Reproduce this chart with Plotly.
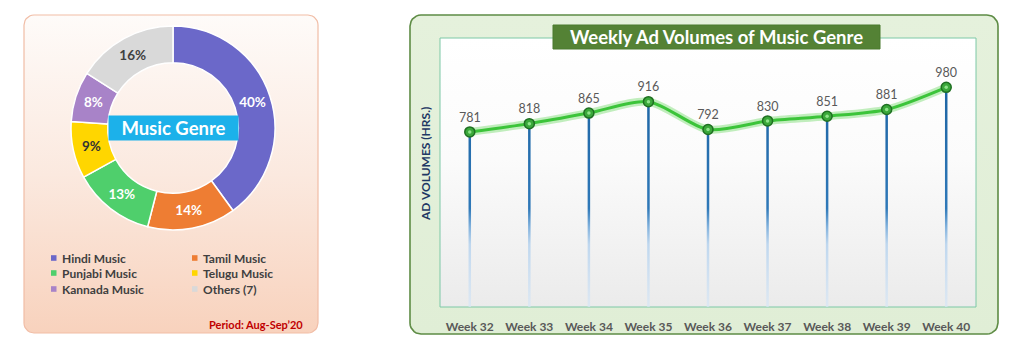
import plotly.graph_objects as go
import numpy as np

# ---------------- data ----------------
genres = ["Hindi Music", "Tamil Music", "Punjabi Music", "Telugu Music", "Kannada Music", "Others (7)"]
genre_share = [40, 14, 13, 9, 8, 16]
genre_colors = ["#6b68c9", "#ee7d33", "#4fcf6c", "#ffd600", "#a883c8", "#d9d9d9"]
genre_text_colors = ["#ffffff", "#ffffff", "#ffffff", "#333333", "#ffffff", "#404040"]

weeks = ["Week 32", "Week 33", "Week 34", "Week 35", "Week 36", "Week 37", "Week 38", "Week 39", "Week 40"]
ad_volumes = [781, 818, 865, 916, 792, 830, 851, 881, 980]

W, H = 1024, 357
FONT = "Lato"

def rounded_rect(x0, y0, x1, y1, r, n=8):
    xs, ys = [], []
    corners = [(x1 - r, y0 + r, -90, 0), (x1 - r, y1 - r, 0, 90),
               (x0 + r, y1 - r, 90, 180), (x0 + r, y0 + r, 180, 270)]
    for cx, cy, a0, a1 in corners:
        for a in np.linspace(np.radians(a0), np.radians(a1), n):
            xs.append(cx + r * np.cos(a))
            ys.append(cy + r * np.sin(a))
    xs.append(xs[0]); ys.append(ys[0])
    return xs, ys

fig = go.Figure()

# ---- background panels on a pixel-coordinate axis (x/y) ----
lx, ly = rounded_rect(24, 15, 318, 333, 10)
fig.add_trace(go.Scatter(x=lx, y=ly, mode="lines", fill="toself",
                         line=dict(color="#f1bda6", width=1.2),
                         fillgradient=dict(type="vertical", start=15, stop=333,
                                           colorscale=[[0, "#fefbf9"], [0.5, "#fbe9df"], [1, "#f8d2bd"]]),
                         hoverinfo="skip", showlegend=False, xaxis="x", yaxis="y"))
rx, ry = rounded_rect(410, 15, 998, 334, 11)
fig.add_trace(go.Scatter(x=rx, y=ry, mode="lines", fill="toself",
                         line=dict(color="#5e8c45", width=1.6),
                         fillgradient=dict(type="vertical", start=15, stop=334,
                                           colorscale=[[0, "#e5f1dc"], [1, "#e0eed6"]]),
                         hoverinfo="skip", showlegend=False, xaxis="x", yaxis="y"))
# inner plot-area background
fig.add_trace(go.Scatter(x=[440, 976, 976, 440, 440], y=[38, 38, 307, 307, 38], mode="lines", fill="toself",
                         line=dict(color="#7cc8a6", width=1),
                         fillgradient=dict(type="vertical", start=38, stop=307,
                                           colorscale=[[0, "#ffffff"], [0.45, "#fbfbfb"], [1, "#ebebeb"]]),
                         hoverinfo="skip", showlegend=False, xaxis="x", yaxis="y"))

# ---- line chart on x2/y2 ----
xi = list(range(len(weeks)))
hw = 0.021
dx, dy = [], []
for i, v in zip(xi, ad_volumes):
    dx += [i - hw, i + hw, i + hw, i - hw, i - hw, None]
    dy += [0, 0, v, v, 0, None]
fig.add_trace(go.Scatter(x=dx, y=dy, mode="lines", fill="toself", line=dict(width=0),
                         fillgradient=dict(type="vertical", start=0, stop=1000,
                                           colorscale=[[0, "rgba(215,230,245,0.7)"], [0.28, "rgba(185,212,238,0.9)"],
                                                       [0.36, "#7fb0dc"], [0.44, "#2e78b8"], [1, "#1d64a3"]]),
                         hoverinfo="skip", showlegend=False, xaxis="x2", yaxis="y2"))
# glow
fig.add_trace(go.Scatter(x=xi, y=ad_volumes, mode="lines", line=dict(color="rgba(120,220,110,0.45)", width=8, shape="spline", smoothing=0.8),
                         hoverinfo="skip", showlegend=False, xaxis="x2", yaxis="y2"))
fig.add_trace(go.Scatter(x=xi, y=ad_volumes, mode="lines+markers+text",
                         line=dict(color="#3cc43a", width=3, shape="spline", smoothing=0.8),
                         marker=dict(size=10, color="#3aa83a", line=dict(color="#1f6f22", width=1.5)),
                         text=[str(v) for v in ad_volumes], textposition="top center",
                         textfont=dict(family=FONT, size=12.5, color="#595959"),
                         hoverinfo="skip", showlegend=False, xaxis="x2", yaxis="y2"))
# marker highlight
fig.add_trace(go.Scatter(x=xi, y=ad_volumes, mode="markers",
                         marker=dict(size=3.5, color="#8fe38a"),
                         hoverinfo="skip", showlegend=False, xaxis="x2", yaxis="y2"))

# ---- donut ----
cx, cy, R = 173, 128, 102
fig.add_trace(go.Pie(labels=genres, values=genre_share, hole=0.64, sort=False, direction="clockwise",
                     rotation=0, marker=dict(colors=genre_colors, line=dict(color="#ffffff", width=1.5)),
                     texttemplate="<b>%{value}%</b>", textposition="inside", insidetextorientation="horizontal",
                     textfont=dict(family=FONT, size=13.5, color=genre_text_colors),
                     domain=dict(x=[(cx - R) / W, (cx + R) / W], y=[(H - cy - R) / H, (H - cy + R) / H]),
                     showlegend=False, hoverinfo="skip"))

shapes = []
annotations = []
# donut centre label
annotations.append(dict(x=cx + 0.5, y=cy, xref="x", yref="y", text="<b>Music Genre</b>", showarrow=False,
                        bgcolor="#1cb1ea", width=127, height=22, font=dict(family=FONT, size=18.5, color="#ffffff")))
# legend (two columns)
col_x = [51, 192]
row_y = [258, 273, 289]
for k, (g, c) in enumerate(zip(genres, genre_colors)):
    mx = col_x[k % 2]
    my = row_y[k // 2]
    shapes.append(dict(type="rect", xref="x", yref="y", x0=mx, x1=mx + 5.5, y0=my - 2.8, y1=my + 2.8,
                       fillcolor=c, line=dict(width=0)))
    annotations.append(dict(x=mx + 9, y=my, xref="x", yref="y", text="<b>" + g + "</b>", showarrow=False, xanchor="left",
                            font=dict(family=FONT, size=12, color="#404040")))
annotations.append(dict(x=305, y=324, xref="x", yref="y", text="<b>Period: Aug-Sep\u201920</b>", showarrow=False,
                        xanchor="right", font=dict(family=FONT, size=11, color="#c00000")))
# right title box
shapes.append(dict(type="rect", xref="x", yref="y", x0=553, x1=880, y0=25, y1=49, fillcolor="#548235",
                   line=dict(color="#4a7a2e", width=1)))
annotations.append(dict(x=716.5, y=37, xref="x", yref="y", text="<b>Weekly Ad Volumes of Music Genre</b>", showarrow=False,
                        font=dict(family=FONT, size=18.5, color="#ffffff")))
annotations.append(dict(x=425, y=164, xref="x", yref="y", text="<b>AD VOLUMES (HRS.)</b>", showarrow=False, textangle=-90,
                        font=dict(family=FONT, size=12, color="#1f3864")))

fig.update_layout(
    width=W, height=H, margin=dict(l=0, r=0, t=0, b=0),
    paper_bgcolor="#ffffff", plot_bgcolor="rgba(0,0,0,0)",
    xaxis=dict(domain=[0, 1], range=[0, W], visible=False, fixedrange=True),
    yaxis=dict(domain=[0, 1], range=[H, 0], visible=False, fixedrange=True),
    xaxis2=dict(domain=[440 / W, 976 / W], range=[-0.5, 8.5], anchor="y2", showgrid=False, zeroline=False,
                tickmode="array", tickvals=xi, ticktext=["<b>" + w + "</b>" for w in weeks], ticks="outside", ticklen=9,
                tickcolor="rgba(0,0,0,0)",
                tickfont=dict(family=FONT, size=12, color="#595959"), showline=False, fixedrange=True),
    yaxis2=dict(domain=[(H - 307) / H, (H - 38) / H], range=[0, 1200], anchor="x2", visible=False, fixedrange=True),
    shapes=shapes, annotations=annotations, hovermode=False,
)

fig.write_html("out.html", config={"displayModeBar": False, "staticPlot": True},
               post_script="document.body.style.margin='0';document.body.style.overflow='hidden';")
